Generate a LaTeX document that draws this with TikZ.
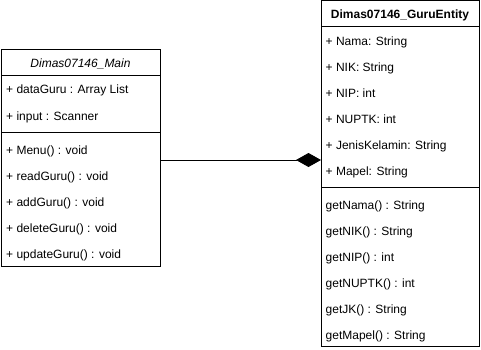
\documentclass[tikz,border=0pt]{standalone}
\usepackage{fontspec}
\setmainfont{Liberation Sans}
\usetikzlibrary{arrows.meta}
\newcommand{\drawthin}{\draw[line width=1pt]}
\tikzset{
  classbox/.style={draw, line width=1pt, anchor=north west, inner sep=0pt, outer sep=0pt},
  member/.style={anchor=base west, inner sep=0pt, font=\fontsize{12pt}{14pt}\selectfont},
  classtitle/.style={anchor=base, inner sep=0pt, font=\fontsize{12pt}{14pt}\selectfont},
  composition/.style={line width=1pt, -{Diamond[length=25pt,width=14pt,fill=black]}}
}

\begin{document}
\begin{tikzpicture}[x=1pt,y=-1pt]
\useasboundingbox (0,0) rectangle (481,350);
% the two class boxes
\node[classbox, minimum width=159pt, minimum height=216pt] (main) at (1,50) {};
\node[classbox, minimum width=158pt, minimum height=345pt] (guru) at (321,1) {};
% title and separator lines
\drawthin (1,76)--(160,76);
\drawthin (1,132)--(160,132);
\drawthin (321,27)--(479,27);
\drawthin (321,187)--(479,187);
% titles
\node[classtitle] (maintitle) at (80.5,68) {\itshape Dimas07146\_Main};
\node[classtitle] (gurutitle) at (400,19) {\bfseries Dimas07146\_GuruEntity};
% Main: attributes and methods
\foreach \txt [count=\i] in {{+ dataGuru : Array List},{+ input : Scanner}}
  \node[member] (mainattr\i) at (6,{94+26*(\i-1)}) {\txt};
\foreach \txt [count=\i] in {{+ Menu() : void},{+ readGuru() : void},{+ addGuru() : void},
    {+ deleteGuru() : void},{+ updateGuru() : void}}
  \node[member] (mainop\i) at (6,{154+26*(\i-1)}) {\txt};
% GuruEntity: attributes and methods
\foreach \txt [count=\i] in {{+ Nama: String},{+ NIK: String},{+ NIP: int},{+ NUPTK: int},
    {+ JenisKelamin: String},{+ Mapel: String}}
  \node[member] (guruattr\i) at (325.5,{45.5+26*(\i-1)}) {\txt};
\foreach \txt [count=\i] in {{getNama() : String},{getNIK() : String},{getNIP() : int},
    {getNUPTK() : int},{getJK() : String},{getMapel() : String}}
  \node[member] (guruop\i) at (325.5,{209.5+26*(\i-1)}) {\txt};
% composition link
\draw[composition] ([yshift=-2pt]main.east) coordinate (link) -- (link -| guru.west);
\end{tikzpicture}
\end{document}
